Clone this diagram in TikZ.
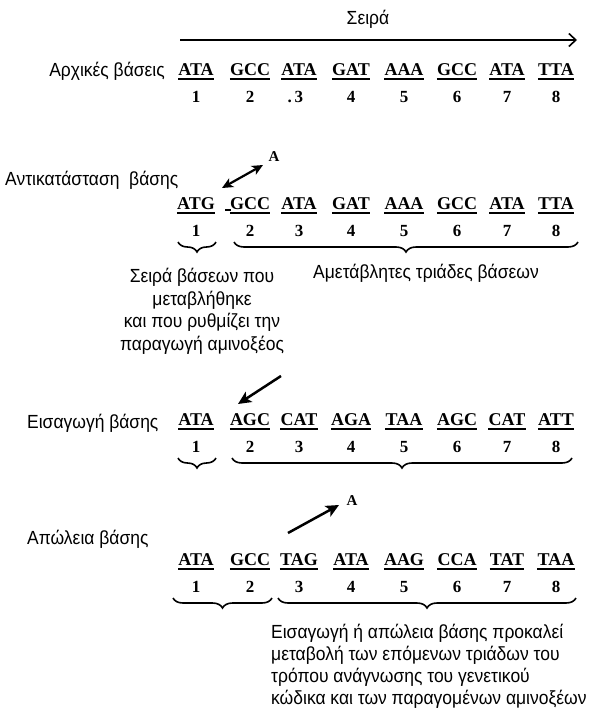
\documentclass[tikz,border=0pt]{standalone}
\usepackage{fontspec}
\setmainfont{Liberation Sans}[FakeStretch=0.92]
\newfontfamily\codonfont{Liberation Serif}
\usetikzlibrary{arrows.meta,decorations.pathreplacing}

\tikzset{
  lbl/.style={font=\fontsize{19}{22}\selectfont, inner sep=0pt},
  codon/.style={font=\codonfont\bfseries\fontsize{18}{19}\selectfont, inner sep=0pt, anchor=base},
  num/.style={font=\codonfont\bfseries\fontsize{17}{18}\selectfont, inner sep=0pt, anchor=base},
  alabel/.style={font=\codonfont\bfseries\fontsize{15}{16}\selectfont, inner sep=0pt},
  uline/.style={line width=1.5pt},
  brc/.style={decorate, decoration={brace, mirror, amplitude=10pt, aspect=0.5}, line width=1.6pt},
  thickarr/.style={line width=2.5pt, -{Stealth[length=13pt,width=12pt,inset=3pt]}},
  dblarr/.style={line width=2.2pt, {Stealth[length=11pt,width=10pt,inset=3pt]}-{Stealth[length=11pt,width=10pt,inset=3pt]}},
  seqarr/.style={line width=1.6pt, -{Straight Barb[length=7pt,width=13pt]}},
}

\newcommand\codonrow[4]{%
  \foreach \t [count=\i] in {#3} {
    \pgfmathsetmacro\cx{{196,250,299,351,404,457,507,556}[\i-1]}
    \node[codon] (#1c\i) at (\cx,#2) {\t};
    \draw[uline] ([yshift=-4pt]#1c\i.base west) -- ([yshift=-4pt]#1c\i.base east);
  }
  \foreach \t [count=\i] in {#4} {
    \pgfmathsetmacro\cx{{196,250,299,351,404,457,507,556}[\i-1]}
    \node[num] (#1n\i) at (\cx,#2+27) {\t};
  }
}

\begin{document}
\begin{tikzpicture}[x=1pt,y=-1pt]
\useasboundingbox (0,0) rectangle (595,717);
\fill[white] (0,0) rectangle (595,717);

% sequence direction
\node[lbl, anchor=base] (seira) at (368,25) {Σειρά};
\coordinate (s0) at (180,40);
\coordinate (s1) at (577,40);
\draw[seqarr] (s0) -- (s1);

% row 1
\node[lbl, anchor=base east] (arx) at (165,77) {Αρχικές βάσεις};
\codonrow{a}{75}{ATA,GCC,ATA,GAT,AAA,GCC,ATA,TTA}{1,2,\llap{.\,}3,4,5,6,7,8}

% row 2 : substitution
\node[lbl, anchor=base west] (subst) at (5,185) {Αντικατάσταση\ \ βάσης};
\codonrow{b}{209}{ATG,GCC,ATA,GAT,AAA,GCC,ATA,TTA}{1,2,3,4,5,6,7,8}
\draw[line width=1.2pt] (225,210) -- (231,210);
\coordinate (da1) at (222,188);
\coordinate (da2) at (263,165);
\draw[dblarr] (da1) -- (da2);
\node[alabel] (bA) at (274,157) {A};
\coordinate (b1l) at (178,242); \coordinate (b1r) at (216,242);
\coordinate (b2l) at (234,242); \coordinate (b2r) at (578,242);
\draw[brc] (b1l) -- (b1r);
\draw[brc] (b2l) -- (b2r);
\node[lbl, anchor=base] (t1) at (202,282) {Σειρά βάσεων που};
\node[lbl, anchor=base] (t2) at (202,305) {μεταβλήθηκε};
\node[lbl, anchor=base] (t3) at (202,327) {και που ρυθμίζει την};
\node[lbl, anchor=base] (t4) at (202,350) {παραγωγή αμινοξέος};
\node[lbl, anchor=base] (amet) at (426,278) {Αμετάβλητες τριάδες βάσεων};

% row 3 : insertion
\node[lbl, anchor=base west] (ins) at (27,428) {Εισαγωγή βάσης};
\codonrow{c}{425}{ATA,AGC,CAT,AGA,TAA,AGC,CAT,ATT}{1,2,3,4,5,6,7,8}
\coordinate (ia1) at (281,376);
\coordinate (ia2) at (238,404);
\draw[thickarr] (ia1) -- (ia2);
\coordinate (c1l) at (178,458); \coordinate (c1r) at (216,458);
\coordinate (c2l) at (232,458); \coordinate (c2r) at (572,458);
\draw[brc] (c1l) -- (c1r);
\draw[brc] (c2l) -- (c2r);

% row 4 : deletion
\node[lbl, anchor=base west] (del) at (27,544) {Απώλεια βάσης};
\coordinate (da3) at (288,533);
\coordinate (da4) at (339,505);
\draw[thickarr] (da3) -- (da4);
\node[alabel] (dA) at (352,501) {A};
\codonrow{d}{565}{ATA,GCC,TAG,ATA,AAG,CCA,TAT,TAA}{1,2,3,4,5,6,7,8}
\coordinate (d1l) at (173,598); \coordinate (d1r) at (272,598);
\coordinate (d2l) at (278,598); \coordinate (d2r) at (576,598);
\draw[brc] (d1l) -- (d1r);
\draw[brc] (d2l) -- (d2r);
\node[lbl, anchor=base west] (e1) at (271,638) {Εισαγωγή ή απώλεια βάσης προκαλεί};
\node[lbl, anchor=base west] (e2) at (271,660) {μεταβολή των επόμενων τριάδων του};
\node[lbl, anchor=base west] (e3) at (271,682) {τρόπου ανάγνωσης του γενετικού};
\node[lbl, anchor=base west] (e4) at (271,704) {κώδικα και των παραγομένων αμινοξέων};
\end{tikzpicture}
\end{document}
